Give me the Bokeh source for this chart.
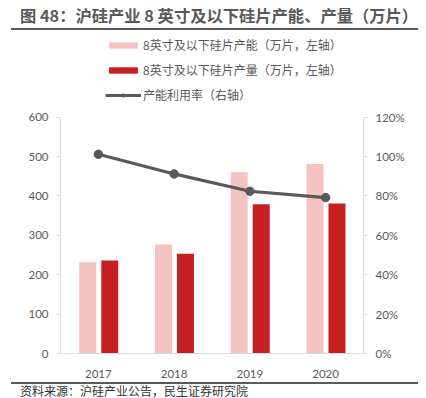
from bokeh.plotting import figure
from bokeh.layouts import column
from bokeh.models import (Range1d, LinearAxis, NumeralTickFormatter, FactorRange, Div,
                          Legend, LegendItem, FixedTicker, ColumnDataSource)
from bokeh.transform import dodge
from bokeh.embed import file_html
from bokeh.resources import INLINE

years = ["2017", "2018", "2019", "2020"]
capacity = [232, 277, 460, 481]
production = [236, 253, 379, 381]
utilization = [1.012, 0.912, 0.824, 0.792]
left_ticks = [0, 100, 200, 300, 400, 500, 600]
right_ticks = [0, 0.2, 0.4, 0.6, 0.8, 1.0, 1.2]

title_text = "图 48：沪硅产业 8 英寸及以下硅片产能、产量（万片）"
footer_text = "资料来源：沪硅产业公告，民生证券研究院"
legend_labels = ["8英寸及以下硅片产能（万片，左轴）",
                 "8英寸及以下硅片产量（万片，左轴）",
                 "产能利用率（右轴）"]

src = ColumnDataSource(dict(year=years, cap=capacity, prod=production, util=utilization))

GRAY = "#595959"
AXIS = "#d9d9d9"
CJK = "Noto Sans CJK SC"
NUM = "Lato"
W = 426

# header: title + underline
hdr = Div(width=W, height=36, margin=0, text=(
    '<div style="position:relative;width:426px;height:36px;overflow:hidden;">'
    '<div style="position:absolute;left:20px;top:3px;white-space:nowrap;'
    f"font-family:'{CJK}';font-weight:bold;font-size:16.3px;line-height:24px;color:{GRAY};\">"
    f'{title_text}</div>'
    f'<div style="position:absolute;left:11px;top:28px;width:407px;height:2px;background:{GRAY};"></div>'
    '</div>'))

# main chart (frame extended upward to hold the legend; axes bounded to data span)
TOP_EXTRA = 805 / 600.0
p = figure(width=W, height=344, x_range=FactorRange(*years, range_padding=0),
           y_range=Range1d(0, 600 * TOP_EXTRA), output_backend="svg", toolbar_location=None,
           min_border_left=60, min_border_right=63, min_border_top=0, min_border_bottom=27,
           title=None)
p.extra_y_ranges = {"pct": Range1d(0, 1.2 * TOP_EXTRA)}
p.outline_line_color = None
p.xgrid.visible = False
p.ygrid.visible = False

r_cap = p.vbar(x=dodge("year", -0.14, range=p.x_range), top="cap", width=0.224, source=src,
               fill_color="#F4C2C0", line_color=None)
r_prod = p.vbar(x=dodge("year", 0.15, range=p.x_range), top="prod", width=0.224, source=src,
                fill_color="#C51F22", line_color=None)
r_line = p.line(x="year", y="util", source=src, y_range_name="pct", line_color=GRAY, line_width=3.2)
r_pts = p.scatter(x="year", y="util", source=src, y_range_name="pct", size=8.5,
                  fill_color=GRAY, line_color=GRAY)

for ax in [p.xaxis[0], p.yaxis[0]]:
    ax.axis_line_color = AXIS
    ax.major_tick_line_color = AXIS
    ax.minor_tick_line_color = None
    ax.major_label_text_color = GRAY
    ax.major_label_text_font = NUM
    ax.major_label_text_font_size = "11.5px"
p.xaxis.major_tick_line_color = None
p.xaxis.major_label_standoff = 10
p.yaxis.ticker = FixedTicker(ticks=left_ticks)
p.yaxis.bounds = (0, 600)
p.yaxis.major_tick_out = 4
p.yaxis.major_tick_in = 0
p.yaxis.major_label_standoff = 8

ax_r = LinearAxis(y_range_name="pct", ticker=FixedTicker(ticks=right_ticks),
                  formatter=NumeralTickFormatter(format="0%"), bounds=(0, 1.2))
ax_r.axis_line_color = AXIS
ax_r.major_tick_line_color = AXIS
ax_r.minor_tick_line_color = None
ax_r.major_tick_out = 4
ax_r.major_tick_in = 0
ax_r.major_label_standoff = 8
ax_r.major_label_text_color = GRAY
ax_r.major_label_text_font = NUM
ax_r.major_label_text_font_size = "11.5px"
p.add_layout(ax_r, "right")

legend = Legend(items=[LegendItem(label=legend_labels[0], renderers=[r_cap]),
                       LegendItem(label=legend_labels[1], renderers=[r_prod]),
                       LegendItem(label=legend_labels[2], renderers=[r_line, r_pts])],
                location=(45, 250), orientation="vertical",
                border_line_color=None, background_fill_alpha=0,
                padding=0, margin=0, spacing=8,
                glyph_width=36, glyph_height=8, label_height=16,
                label_text_font=CJK, label_text_font_size="12px", label_text_color=GRAY,
                label_standoff=2)
p.add_layout(legend, "center")

# footer: rule + source text
ftr = Div(width=W, height=18, margin=0, text=(
    '<div style="position:relative;width:426px;height:18px;overflow:hidden;">'
    f'<div style="position:absolute;left:11px;top:2px;width:407px;height:2px;background:{GRAY};"></div>'
    '<div style="position:absolute;left:20px;top:4px;white-space:nowrap;'
    f"font-family:'{CJK}';font-size:12px;line-height:14px;color:#333333;\">"
    f'{footer_text}</div>'
    '</div>'))

layout = column(hdr, p, ftr, spacing=0)
open("out.html", "w").write(file_html(layout, INLINE))
